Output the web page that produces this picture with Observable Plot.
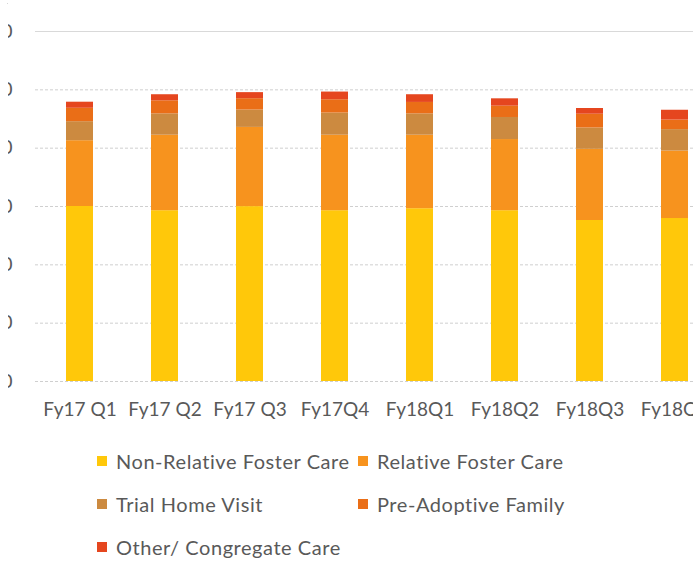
<!DOCTYPE html>
<html>
<head>
<meta charset="utf-8">
<script src="https://cdn.jsdelivr.net/npm/d3@7"></script>
<script src="https://cdn.jsdelivr.net/npm/@observablehq/plot@0.6"></script>
<style>
  html, body { margin: 0; padding: 0; background: #fff; }
  body { width: 693px; height: 563px; position: relative; overflow: hidden; font-family: Lato, "Open Sans", sans-serif; }
  #border { position: absolute; left: 7px; top: 3px; width: 686px; height: 1px; background: #d6d6d6; }
  #clip { position: absolute; left: 8px; top: 0; width: 685px; height: 445px; overflow: hidden; }
  #chart { position: absolute; left: -33px; top: 0; width: 743px; }
  #chart svg { max-width: none !important; }
  #legend { position: absolute; left: 97px; top: 439px; display: grid; grid-template-columns: 261px auto; grid-auto-rows: 43px; align-items: center; color: #595959; font-size: 20px; letter-spacing: 0.55px; }
  .item { display: flex; align-items: center; white-space: nowrap; }
  .sw { width: 10px; height: 10px; margin-right: 9px; flex: none; }
</style>
</head>
<body>
<div id="border"></div>
<div id="clip"><div id="chart"></div></div>
<div id="legend"></div>
<script>
const categories = ["Fy17 Q1", "Fy17 Q2", "Fy17 Q3", "Fy17Q4", "Fy18Q1", "Fy18Q2", "Fy18Q3", "Fy18Q4"];
const seriesNames = ["Non-Relative Foster Care", "Relative Foster Care", "Trial Home Visit", "Pre-Adoptive Family", "Other/ Congregate Care"];
const seriesColors = ["#FFC80A", "#F7931E", "#CC8A40", "#EA6E17", "#E5461F"];
const nonRelative     = [1500, 1464, 1499, 1464, 1481, 1464, 1380, 1397];
const relative        = [564, 647, 679, 647, 630, 610, 610, 578];
const trialHome       = [163, 183, 149, 190, 183, 189, 183, 184];
const preAdoptive     = [115, 112, 97, 114, 98, 97, 118, 82];
const otherCongregate = [52, 52, 52, 66, 66, 63, 49, 84];
const yTicks = [0, 500, 1000, 1500, 2000, 2500, 3000];

const seriesValues = [nonRelative, relative, trialHome, preAdoptive, otherCongregate];
const rows = [];
categories.forEach((c, i) => {
  seriesNames.forEach((s, j) => rows.push({quarter: c, type: s, value: seriesValues[j][i]}));
});

const chart = Plot.plot({
  width: 743,
  height: 440,
  marginLeft: 60,
  marginRight: 0,
  marginTop: 31,
  marginBottom: 59,
  style: {fontFamily: "Lato, 'Open Sans', sans-serif", fontSize: "19px", color: "#595959", background: "#fff", maxWidth: "none"},
  x: {domain: categories, paddingInner: 0.684, paddingOuter: 0.342, align: 0.5},
  y: {domain: [0, 3000]},
  color: {domain: seriesNames, range: seriesColors},
  marks: [
    Plot.ruleY(yTicks.slice(0, -1), {stroke: "#cfcfcf", strokeDasharray: "3,2", strokeWidth: 1}),
    Plot.ruleY(yTicks.slice(-1), {stroke: "#d9d9d9", strokeWidth: 1}),
    Plot.barY(rows, {x: "quarter", y: "value", fill: "type", order: seriesNames}),
    Plot.axisY({ticks: yTicks, tickSize: 0, tickPadding: 23, label: null, fill: "#595959"}),
    Plot.axisX({tickSize: 0, tickPadding: 21, label: null, fill: "#595959"})
  ]
});
document.getElementById("chart").appendChild(chart);

const legend = document.getElementById("legend");
seriesNames.forEach((s, j) => {
  const it = document.createElement("div");
  it.className = "item";
  const sw = document.createElement("span");
  sw.className = "sw";
  sw.style.background = seriesColors[j];
  const tx = document.createElement("span");
  tx.textContent = s;
  it.appendChild(sw);
  it.appendChild(tx);
  legend.appendChild(it);
});
</script>
</body>
</html>
